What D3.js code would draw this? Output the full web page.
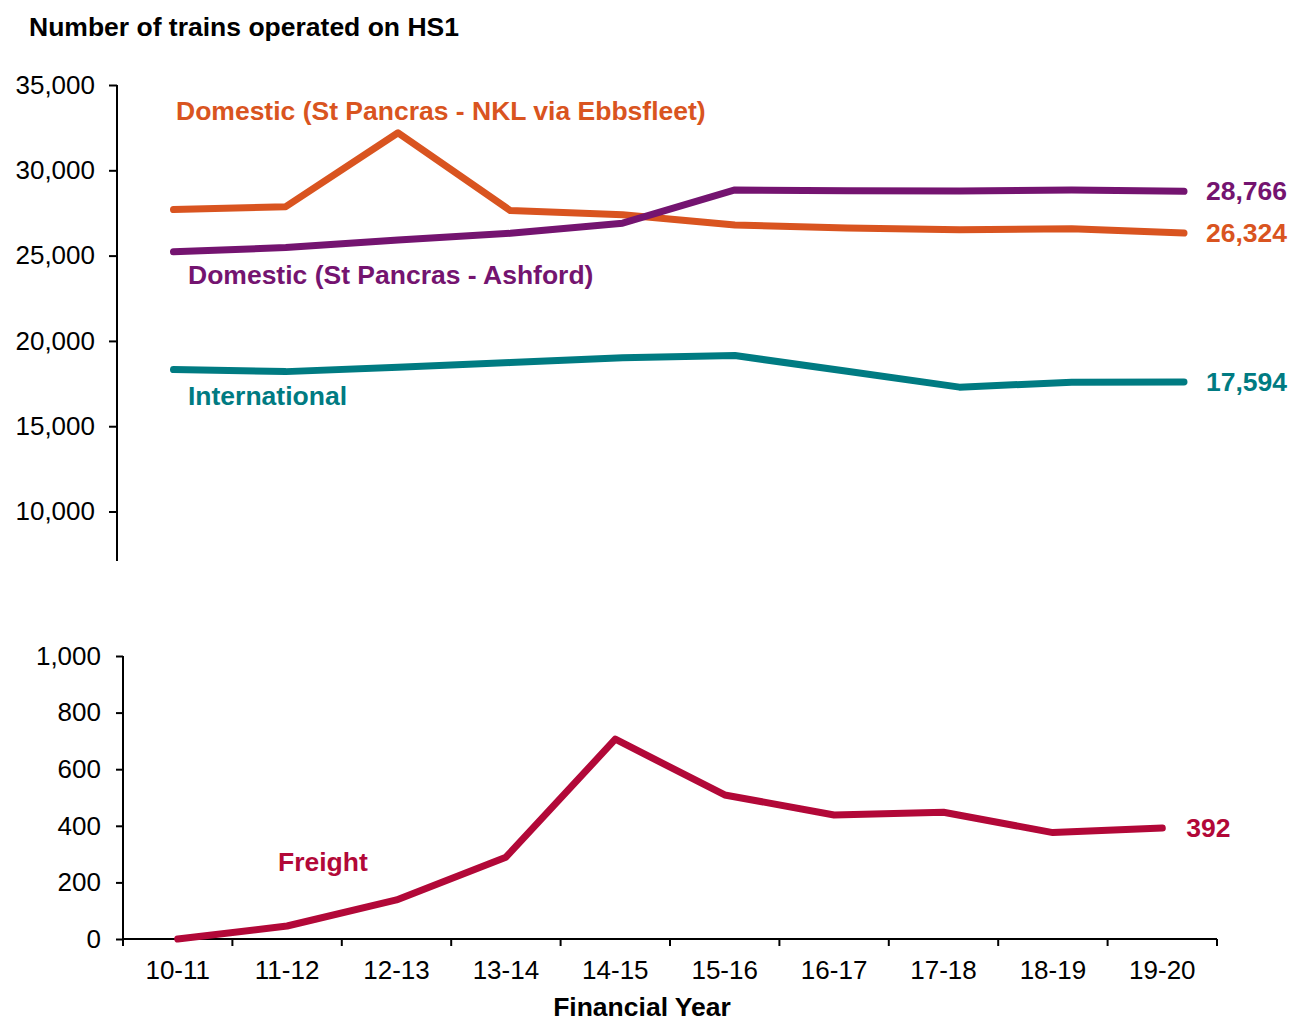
<!DOCTYPE html>
<html>
<head>
<meta charset="utf-8">
<script src="https://cdn.jsdelivr.net/npm/d3@7"></script>
<style>
    body { margin: 0; background: #fff; }
    text { font-family: "Liberation Sans", Arial, sans-serif; }
</style>
</head>
<body>
<svg id="chart" width="1290" height="1021"></svg>
<script>
// Financial years on the x axis
var years = ["10-11", "11-12", "12-13", "13-14", "14-15", "15-16", "16-17", "17-18", "18-19", "19-20"];

// Trains operated per year
var domesticNkl = [27700, 27870, 32200, 27640, 27390, 26800, 26620, 26520, 26580, 26324];
var domesticAshford = [25220, 25470, 25920, 26310, 26900, 28850, 28800, 28790, 28840, 28766];
var international = [18320, 18200, 18460, 18730, 19020, 19140, 18220, 17290, 17580, 17594];
var freight = [0, 46, 138, 289, 706, 509, 438, 448, 376, 392];

var topTicks = [10000, 15000, 20000, 25000, 30000, 35000];
var bottomTicks = [0, 200, 400, 600, 800, 1000];

var config = {
    tickFontSize: 26,
    labelFontSize: 26.5,
    lineWidth: 7,
    colors: {
        nkl: "#d95420",
        ashford: "#741470",
        international: "#007b82",
        freight: "#b20838",
        axis: "black"
    }
};

var svg = d3.select("#chart"),
    fmt = d3.format(",");

/**
 * Draws a bold label
 */
function drawLabel(text, x, y, color, anchor) {
    return svg.append("text")
        .attr("x", x)
        .attr("y", y)
        .attr("dominant-baseline", "central")
        .attr("text-anchor", anchor || "start")
        .attr("fill", color)
        .style("font-size", config.labelFontSize + "px")
        .style("font-weight", "bold")
        .text(text);
}

/**
 * Draws a straight black axis stroke as a path
 */
function drawRule(x1, y1, x2, y2) {
    svg.append("path")
        .attr("d", "M" + x1 + "," + y1 + "L" + x2 + "," + y2)
        .attr("fill", "none")
        .style("stroke", config.colors.axis)
        .style("stroke-width", "2px");
}

/**
 * Draws one series as a thick line
 */
function drawSeries(values, x, y, color) {
    var line = d3.line()
        .x(function (d, i) { return x(years[i]); })
        .y(function (d) { return y(d); });

    svg.append("path")
        .datum(values)
        .attr("d", line)
        .attr("fill", "none")
        .attr("stroke", color)
        .attr("stroke-width", config.lineWidth)
        .attr("stroke-linecap", "round")
        .attr("stroke-linejoin", "round");
}

/**
 * Styles the tick labels of an axis group
 */
function styleAxis(g) {
    g.select(".domain").remove();
    g.selectAll(".tick line")
        .style("stroke", config.colors.axis)
        .style("stroke-width", "2px");
    g.selectAll("text")
        .attr("fill", "#000")
        .style("font-family", "'Liberation Sans', Arial, sans-serif")
        .style("font-size", config.tickFontSize + "px");
}

// Title
drawLabel("Number of trains operated on HS1", 29, 27, "#000");

// ---- Top panel: passenger services ----
var xTop = d3.scalePoint().domain(years).range([173.5, 1184]),
    yTop = d3.scaleLinear().domain([7100, 35000]).range([561, 85]);

svg.append("g")
    .attr("transform", "translate(117,0)")
    .call(d3.axisLeft(yTop).tickValues(topTicks).tickFormat(fmt).tickSize(8).tickSizeOuter(0).tickPadding(14))
    .call(styleAxis);

drawRule(117, yTop.range()[1], 117, yTop.range()[0]);

drawSeries(international, xTop, yTop, config.colors.international);
drawSeries(domesticNkl, xTop, yTop, config.colors.nkl);
drawSeries(domesticAshford, xTop, yTop, config.colors.ashford);

drawLabel("Domestic (St Pancras - NKL via Ebbsfleet)", 176, 111, config.colors.nkl);
drawLabel("Domestic (St Pancras - Ashford)", 188, 275, config.colors.ashford);
drawLabel("International", 188, 396, config.colors.international);

var last = years.length - 1;
drawLabel(fmt(domesticAshford[last]), xTop(years[last]) + 22, yTop(domesticAshford[last]), config.colors.ashford);
drawLabel(fmt(domesticNkl[last]), xTop(years[last]) + 22, yTop(domesticNkl[last]), config.colors.nkl);
drawLabel(fmt(international[last]), xTop(years[last]) + 22, yTop(international[last]), config.colors.international);

// ---- Bottom panel: freight ----
var xBot = d3.scaleBand().domain(years).range([123, 1217]),
    yBot = d3.scaleLinear().domain([0, 1000]).range([939, 656]);

svg.append("g")
    .attr("transform", "translate(123,0)")
    .call(d3.axisLeft(yBot).tickValues(bottomTicks).tickFormat(fmt).tickSize(7).tickSizeOuter(0).tickPadding(15))
    .call(styleAxis);

drawRule(123, yBot.range()[1], 123, yBot.range()[0]);

// x axis labels, centred in each band
svg.append("g")
    .attr("transform", "translate(0,939)")
    .call(d3.axisBottom(xBot).tickSize(0).tickPadding(22))
    .call(styleAxis);

// x axis line and the ticks between the bands
drawRule(xBot.range()[0], 939, xBot.range()[1], 939);

var boundaries = years.map(function (d) { return xBot(d); }).concat([xBot.range()[1]]);
boundaries.forEach(function (x) {
    drawRule(x, 939, x, 946);
});

var xFreight = function (d) { return xBot(d) + xBot.bandwidth() / 2; };
drawSeries(freight, xFreight, yBot, config.colors.freight);

drawLabel("Freight", 278, 862, config.colors.freight);
drawLabel(fmt(freight[last]), xFreight(years[last]) + 24, yBot(freight[last]), config.colors.freight);

// Axis title
drawLabel("Financial Year", 642, 1007, "#000", "middle");
</script>
</body>
</html>
